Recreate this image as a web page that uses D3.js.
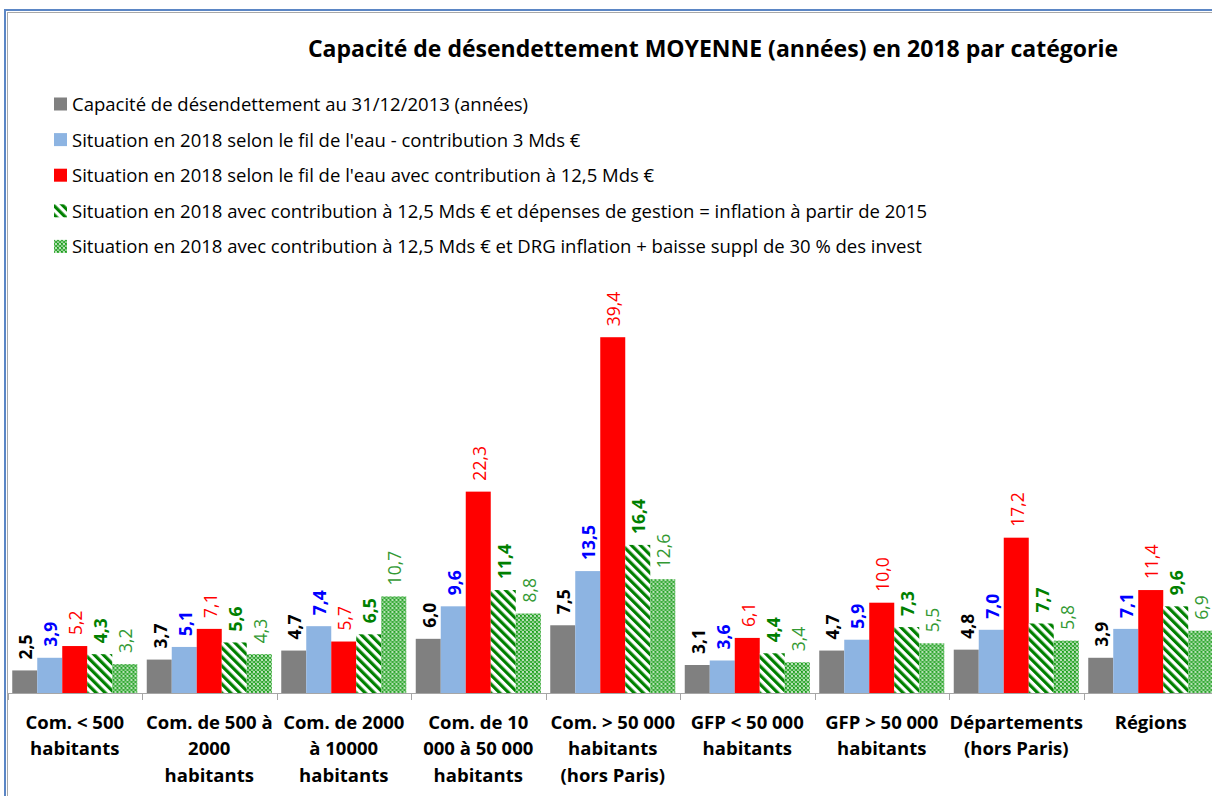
<!DOCTYPE html>
<html><head><meta charset="utf-8">
<script src="https://cdn.jsdelivr.net/npm/d3@7"></script>
<style>
html,body{margin:0;padding:0;background:#fff;}
svg{display:block;font-family:"Open Sans",Lato,sans-serif;}
</style></head>
<body>
<svg id="chart" width="1212" height="796"></svg>
<script>
const title = "Capacité de désendettement MOYENNE (années) en 2018 par catégorie";
const categories = ["Com. < 500 habitants","Com. de 500 à 2000 habitants","Com. de 2000 à 10000 habitants","Com. de 10 000 à 50 000 habitants","Com. > 50 000 habitants (hors Paris)","GFP < 50 000 habitants","GFP > 50 000 habitants","Départements (hors Paris)","Régions"];
const categoryLines = [["Com. < 500","habitants"],["Com. de 500 à","2000","habitants"],["Com. de 2000","à 10000","habitants"],["Com. de 10","000 à 50 000","habitants"],["Com. > 50 000","habitants","(hors Paris)"],["GFP < 50 000","habitants"],["GFP > 50 000","habitants"],["Départements","(hors Paris)"],["Régions"]];
const seriesNames = [
 "Capacité de désendettement au 31/12/2013 (années)",
 "Situation en 2018 selon le fil de l'eau - contribution 3 Mds €",
 "Situation en 2018 selon le fil de l'eau avec contribution à 12,5 Mds €",
 "Situation en 2018 avec contribution à 12,5 Mds € et dépenses de gestion = inflation à partir de 2015",
 "Situation en 2018 avec contribution à 12,5 Mds € et DRG inflation + baisse suppl de 30 % des invest"
];
const s2013      = [2.5, 3.7, 4.7, 6.0, 7.5, 3.1, 4.7, 4.8, 3.9];
const sFil3      = [3.9, 5.1, 7.4, 9.6, 13.5, 3.6, 5.9, 7.0, 7.1];
const sFil125    = [5.2, 7.1, 5.7, 22.3, 39.4, 6.1, 10.0, 17.2, 11.4];
const sGestion   = [4.3, 5.6, 6.5, 11.4, 16.4, 4.4, 7.3, 7.7, 9.6];
const sInvest    = [3.2, 4.3, 10.7, 8.8, 12.6, 3.4, 5.5, 5.8, 6.9];
const seriesValues = [s2013, sFil3, sFil125, sGestion, sInvest];

const barFills = ["#808080","#8db4e2","#ff0000","url(#hatch)","url(#dots)"];
const labelColors = ["#000000","#0000ff","#ff0000","#008000","#339933"];
const labelWeights = ["bold","bold","normal","bold","normal"];

const svg = d3.select("#chart");
const defs = svg.append("defs");
const hatch = defs.append("pattern").attr("id","hatch").attr("patternUnits","userSpaceOnUse")
  .attr("width",6.4).attr("height",10).attr("patternTransform","rotate(-45)");
hatch.append("rect").attr("width",6.4).attr("height",10).attr("fill","#fff");
hatch.append("rect").attr("width",3.2).attr("height",10).attr("fill","#008000");
const dots = defs.append("pattern").attr("id","dots").attr("patternUnits","userSpaceOnUse")
  .attr("width",4).attr("height",4);
dots.append("rect").attr("width",4).attr("height",4).attr("fill","#fff");
dots.append("circle").attr("cx",2).attr("cy",2).attr("r",1.4).attr("fill","none").attr("stroke","#109a10").attr("stroke-width",1.1);

// frame
svg.append("line").attr("x1",5).attr("x2",5).attr("y1",9).attr("y2",796).attr("stroke","#5b86c5").attr("stroke-width",2);
svg.append("line").attr("x1",4).attr("x2",1212).attr("y1",10).attr("y2",10).attr("stroke","#5b86c5").attr("stroke-width",2);
svg.append("line").attr("x1",7.5).attr("x2",7.5).attr("y1",12).attr("y2",796).attr("stroke","#a8a8a8").attr("stroke-width",1);
svg.append("line").attr("x1",7).attr("x2",1212).attr("y1",12.5).attr("y2",12.5).attr("stroke","#a8a8a8").attr("stroke-width",1);

const baseY = 693;
const y = d3.scaleLinear().domain([0, 40]).range([baseY, baseY - 40*9.03]);
const x0 = d3.scaleBand().domain(categories).range([7.5, 7.5 + 9*134.5]).paddingInner(0).paddingOuter(0);
const bw = x0.bandwidth();
const pad = 4.75;
const x1 = d3.scaleBand().domain(d3.range(5)).range([pad, bw - pad]).paddingInner(0);

// title
svg.append("text").attr("x",713).attr("y",57).attr("text-anchor","middle")
  .attr("font-size",23).attr("font-weight","bold").attr("fill","#000").text(title);

// legend
const legend = svg.append("g");
seriesNames.forEach((name,i)=>{
  const cy = 104 + i*35.6;
  legend.append("rect").attr("x",54).attr("y",cy-6.5).attr("width",13).attr("height",13).attr("fill",barFills[i]);
  legend.append("text").attr("x",72).attr("y",cy).attr("dy","0.38em").attr("font-size",18.5).attr("fill","#000").text(name);
});

// bars
const groups = svg.append("g").selectAll("g").data(categories).join("g")
  .attr("transform",d=>`translate(${x0(d)},0)`);
groups.each(function(cat,ci){
  const g = d3.select(this);
  seriesValues.forEach((vals,si)=>{
    const v = vals[ci];
    g.append("rect").attr("x",x1(si)).attr("y",y(v)).attr("width",x1.bandwidth()).attr("height",baseY - y(v))
      .attr("fill",barFills[si]);
    const lx = x1(si) + x1.bandwidth()/2 + 1;
    const ly = y(v) - 11;
    g.append("text").attr("transform",`translate(${lx},${ly}) rotate(-90)`)
      .attr("dy","0.36em").attr("text-anchor","start")
      .attr("font-size",17.5).attr("font-weight",labelWeights[si]).attr("fill",labelColors[si])
      .text(d3.format(".1f")(v).replace(".",","));
  });
});

// x axis
const axis = svg.append("g");
axis.append("line").attr("x1",7.5).attr("x2",1212).attr("y1",baseY+0.5).attr("y2",baseY+0.5).attr("stroke","#a6a6a6").attr("stroke-width",1);
categories.forEach((c,i)=>{
  const tx = Math.round(x0(c)) + 0.5;
  axis.append("line").attr("x1",tx).attr("x2",tx).attr("y1",baseY).attr("y2",baseY+7).attr("stroke","#a6a6a6");
  const cx = x0(c) + bw/2;
  categoryLines[i].forEach((ln,li)=>{
    axis.append("text").attr("x",cx).attr("y",729 + li*26.3).attr("text-anchor","middle")
      .attr("font-size",18.5).attr("font-weight","bold").attr("fill","#000").text(ln);
  });
});
const lastTick = Math.round(x0.range()[1]) + 0.5;
axis.append("line").attr("x1",lastTick).attr("x2",lastTick).attr("y1",baseY).attr("y2",baseY+7).attr("stroke","#a6a6a6");
</script>
</body></html>
